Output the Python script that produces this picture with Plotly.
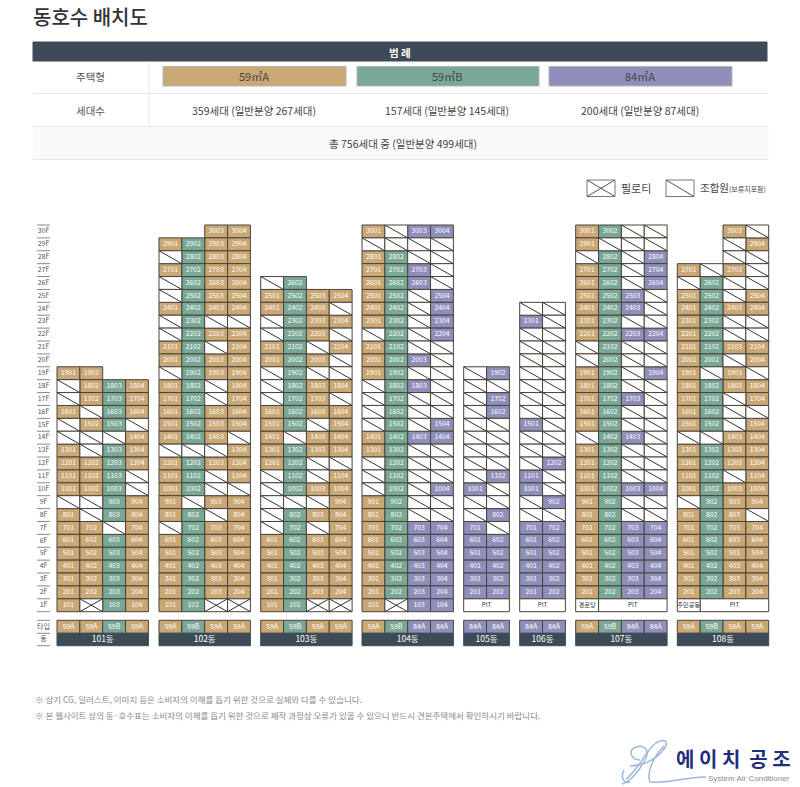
import plotly.graph_objects as go

# one string per floor, top floor first. A=59A B=59B C=84A /=member unit X=piloti
# P=PIT L=named community room, space=no cell
rows_101 = ["AA  ", "/ABA", "/ABA", "A/BA", "/AB/", "///A", "A/BA", "AABA", "AAB/", "AAB/",
            "//BA", "A/BA", "AA/A", "AABA", "AABA", "AABA", "AABA", "AABA", "AXBA"]
rows_102 = ["  AA", "ABAA", "/BAA", "ABAA", "/BAA", "/BAA", "ABAA", "/B//", "/BAA", "AB/A",
            "ABAA", "/BAA", "AB/A", "AB/A", "ABAA", "ABAA", "ABA/", "///A", "ABAA", "AB/A",
            "AB//", "A/AA", "AB/A", "/BAA", "ABAA", "ABAA", "ABAA", "ABAA", "ABAA", "ABXX"]
rows_103 = ["/B  ", "ABAA", "ABA/", "/BAA", "/BA/", "AB/A", "ABA/", "/B//", "/BAA", "/BA/",
            "ABAA", "AB/A", "A/AA", "ABAA", "AB//", "/B/A", "/BAA", "///A", "/BAA", "/B/A",
            "ABAA", "ABAA", "ABAA", "ABAA", "ABAA", "ABXX"]
rows_104 = ["A/CC", "////", "AB//", "ABC/", "ABC/", "AB/C", "AB/C", "AB/C", "/B/C", "AB//",
            "ABC/", "AB//", "/BC/", "/B//", "/B//", "/B/C", "ABCC", "AB//", "/B//", "/B//",
            "/B/C", "AB//", "AB//", "ABCC", "ABCC", "ABCC", "ABCC", "ABCC", "ABCC", "AXCC"]
rows_105 = ["/C", "//", "/C", "/C", "//", "//", "//", "//", "/C", "C/",
            "//", "/C", "C/", "CC", "CC", "CC", "CC", "CC", "PP"]
rows_106 = ["//", "C/", "//", "//", "//", "//", "//", "//", "//", "C/",
            "//", "//", "/C", "C/", "C/", "/C", "//", "CC", "CC", "CC", "CC", "CC", "CC", "PP"]
rows_107 = ["AB//", "A///", "/B/C", "AB/C", "AB/C", "ABC/", "ABC/", "AB//", "ABCC", "/B//",
            "/B//", "AB/C", "AB//", "ABC/", "AB//", "AB//", "/BC/", "AB//", "AB//", "AB//",
            "ABCC", "AB//", "AB//", "ABCC", "ABCC", "ABCC", "ABCC", "ABCC", "ABCC", "LPPP"]
rows_108 = ["  A/", "  /A", "  //", "A/A/", "/B//", "AB/A", "ABAA", "AB//", "AB//", "ABAA",
            "AB/A", "A/A/", "ABAA", "AB/A", "AB//", "AB/A", "//AA", "ABAA", "ABAA", "AB/A",
            "ABAA", "/BAA", "ABA/", "ABAA", "ABAA", "ABAA", "ABAA", "ABAA", "ABAA", "LPPP"]

dong_names = ["101동", "102동", "103동", "104동", "105동", "106동", "107동", "108동"]
dong_rows = [rows_101, rows_102, rows_103, rows_104, rows_105, rows_106, rows_107, rows_108]
dong_types = ["AABA", "ABAA", "ABAA", "ABCC", "CC", "CC", "ABCC", "ABAA"]
room_labels = {"107동": "경로당", "108동": "주민공동"}
type_labels = {"A": "59A", "B": "59B", "C": "84A"}

legend_names = ["59㎡A", "59㎡B", "84㎡A"]
legend_counts = ["359세대 (일반분양 267세대)", "157세대 (일반분양 145세대)", "200세대 (일반분양 87세대)"]
total_text = "총 756세대 중 (일반분양 499세대)"
notes = ["※ 상기 CG, 일러스트, 이미지 등은 소비자의 이해를 돕기 위한 것으로 실제와 다를 수 있습니다.",
         "※ 본 웹사이트 상의 동·호수표는 소비자의 이해를 돕기 위한 것으로 제작 과정상 오류가 있을 수 있으니 반드시 견본주택에서 확인하시기 바랍니다."]

colors = {"A": "#c9a876", "B": "#7aa896", "C": "#8f8fbb", "/": "#ffffff", "X": "#ffffff",
          "P": "#ffffff", "L": "#ffffff"}
DARK = "#3d4a57"
EDGE = "#4a433b"
FONT = "Noto Sans CJK KR"

W, H = 800, 787
# layout of the plan, in page pixels
dong_left = [57, 159, 260.7, 362, 463.7, 519.7, 575.7, 677.3]
CELL_W = 22.85
ROW_H = 12.89
FLOOR_0 = 611.7   # page y of the bottom of 1F


def py(pixel_y):
    return (FLOOR_0 - pixel_y) / ROW_H


def paper_x(v):
    return v / W


def paper_y(v):
    return 1 - v / H


def add_rect(shapes, x0, y0, x1, y1, fill, line=None):
    shapes.append(dict(type="rect", xref="paper", yref="paper", x0=paper_x(x0), x1=paper_x(x1),
                       y0=paper_y(y0), y1=paper_y(y1), fillcolor=fill, layer="below",
                       line=dict(color=line or fill, width=1)))


def add_line(shapes, x0, y0, x1, y1, color, width=1):
    shapes.append(dict(type="line", xref="paper", yref="paper", x0=paper_x(x0), x1=paper_x(x1),
                       y0=paper_y(y0), y1=paper_y(y1), layer="below", line=dict(color=color, width=width)))


def add_text(annots, x, y, text, size, color="#444444", anchor="center", weight=None, font=FONT):
    annots.append(dict(xref="paper", yref="paper", x=paper_x(x), y=paper_y(y), text=text, showarrow=False,
                       xanchor=anchor, yanchor="middle", font=dict(family=font, size=size, color=color, weight=weight)))


bars = {k: dict(x=[], base=[], width=[]) for k in colors}
labels_x, labels_y, labels_text = [], [], []
small_x, small_y, small_text = [], [], []
diag_x, diag_y = [], []

for name, rows, left in zip(dong_names, dong_rows, dong_left):
    top = len(rows)
    for i, row in enumerate(rows):
        floor = top - i
        col = 0
        while col < len(row):
            code = row[col]
            if code == " ":
                col += 1
                continue
            span = 1
            if code == "P":
                span = len(row) - col
            x0 = left + col * CELL_W
            x1 = x0 + span * CELL_W
            cx = (x0 + x1) / 2
            bars[code]["x"].append(cx)
            bars[code]["base"].append(floor - 1)
            bars[code]["width"].append(span * CELL_W)
            if code in "ABC":
                labels_x.append(cx)
                labels_y.append(floor - 0.5)
                labels_text.append(str(floor * 100 + col + 1))
            elif code == "P":
                small_x.append(cx)
                small_y.append(floor - 0.5)
                small_text.append("PIT")
            elif code == "L":
                small_x.append(cx)
                small_y.append(floor - 0.5)
                small_text.append(room_labels[name])
            if code in "/X":
                diag_x += [x0, x1, None]
                diag_y += [floor, floor - 1, None]
            if code == "X":
                diag_x += [x0, x1, None]
                diag_y += [floor - 1, floor, None]
            col += span

fig = go.Figure()
for code, b in bars.items():
    fig.add_trace(go.Bar(x=b["x"], y=[1] * len(b["x"]), base=b["base"], width=b["width"],
                         marker=dict(color=colors[code], line=dict(color=EDGE, width=1)), hoverinfo="skip"))

# type row and dong name row under the building
type_top, type_bottom = py(620.3), py(633.3)
name_bottom = py(645.7)
type_x, type_w, type_text, type_colors = [], [], [], []
name_x, name_w = [], []
for name, types, left in zip(dong_names, dong_types, dong_left):
    for col, code in enumerate(types):
        type_x.append(left + (col + 0.5) * CELL_W)
        type_w.append(CELL_W)
        type_text.append(type_labels[code])
        type_colors.append(colors[code])
    name_x.append(left + len(types) * CELL_W / 2)
    name_w.append(len(types) * CELL_W)

fig.add_trace(go.Bar(x=type_x, y=[type_top - type_bottom] * len(type_x), base=type_bottom, width=type_w,
                     marker=dict(color=type_colors, line=dict(color=EDGE, width=1)), hoverinfo="skip"))
fig.add_trace(go.Bar(x=name_x, y=[type_bottom - name_bottom] * len(name_x), base=name_bottom, width=name_w,
                     marker=dict(color=DARK, line=dict(color=DARK, width=1)), hoverinfo="skip"))

fig.add_trace(go.Scatter(x=diag_x, y=diag_y, mode="lines", line=dict(color="#333333", width=1), hoverinfo="skip"))
fig.add_trace(go.Scatter(x=labels_x, y=labels_y, mode="text", text=labels_text,
                         textfont=dict(family=FONT, size=6.8, color="#ffffff"), hoverinfo="skip"))
fig.add_trace(go.Scatter(x=small_x, y=small_y, mode="text", text=small_text,
                         textfont=dict(family=FONT, size=6.2, color="#333333"), hoverinfo="skip"))
fig.add_trace(go.Scatter(x=type_x, y=[(type_top + type_bottom) / 2] * len(type_x), mode="text", text=type_text,
                         textfont=dict(family=FONT, size=7, color="#ffffff"), hoverinfo="skip"))
fig.add_trace(go.Scatter(x=name_x, y=[(type_bottom + name_bottom) / 2] * len(name_x), mode="text", text=dong_names,
                         textfont=dict(family=FONT, size=8.5, color="#ffffff"), hoverinfo="skip"))

# floor ruler on the left
floors = list(range(1, 31))
fig.add_trace(go.Scatter(x=[43.5] * 30, y=[f - 0.5 for f in floors], mode="text", text=[f"{f}F" for f in floors],
                         textfont=dict(family=FONT, size=7, color="#555555"), hoverinfo="skip"))
fig.add_trace(go.Scatter(x=[43.5, 43.5], y=[(type_top + type_bottom) / 2, (type_bottom + name_bottom) / 2],
                         mode="text", text=["타입", "동"], textfont=dict(family=FONT, size=7, color="#555555"),
                         hoverinfo="skip"))
rule_x, rule_y = [], []
for f in [0] + floors + [type_top, type_bottom, name_bottom]:
    rule_x += [37, 50, None]
    rule_y += [f, f, None]
fig.add_trace(go.Scatter(x=rule_x, y=rule_y, mode="lines", line=dict(color="#8a8a8a", width=1), hoverinfo="skip"))

shapes, annots = [], []

# heading and legend table
add_text(annots, 31, 17, "동호수 배치도", 20, "#333333", "left", 500)
add_rect(shapes, 33, 42, 767, 61, DARK)
add_text(annots, 400, 52, "범 례", 10.5, "#ffffff", weight=700)
add_rect(shapes, 33, 127, 768, 159, "#fafafa")
for y in (93.5, 126.5, 159.5):
    add_line(shapes, 33, y, 768, y, "#e6e6e6")
add_line(shapes, 149, 62, 149, 126, "#e6e6e6")
add_text(annots, 90, 77, "주택형", 10.5, "#555555")
add_text(annots, 90, 110, "세대수", 10.5, "#555555")

swatch_spans = [(163, 346), (357, 539), (549, 732)]
for (x0, x1), code, name, count in zip(swatch_spans, "ABC", legend_names, legend_counts):
    add_rect(shapes, x0, 66.5, x1, 86, colors[code], "#b5b5b5")
    add_text(annots, (x0 + x1) / 2 - 1, 76, name, 11, "#444444")
    add_text(annots, (x0 + x1) / 2 - 1, 110.5, count, 10.5, "#444444")
add_text(annots, 403, 143.5, total_text, 10.5, "#444444")

# unit key
for x0 in (587, 666):
    add_rect(shapes, x0, 180, x0 + 28, 196.5, "#ffffff", "#777777")
    add_line(shapes, x0, 180, x0 + 28, 196.5, "#555555")
add_line(shapes, 587, 196.5, 615, 180, "#555555")
add_text(annots, 618.5, 188, "필로티", 11, "#444444", "left")
add_text(annots, 697.5, 188, "조합원<span style='font-size:7px'>(보류지포함)</span>", 10.5, "#444444", "left")

# footnotes
add_text(annots, 33, 699, notes[0], 8.5, "#8a8a8a", "left")
add_text(annots, 33, 715, notes[1], 8.5, "#8a8a8a", "left")

# company mark
add_text(annots, 674, 758, "에 이 치  공 조", 20, "#1e2f7d", "left", 700)
add_text(annots, 792, 778, "System Air Conditioner", 8, "#8c8c8c", "right", font="Liberation Sans")
swirls = [
    "M 626 779 C 640 768 646 750 656 743 C 664 738 670 741 664 749 C 656 760 642 766 630 766",
    "M 622 784 C 630 782 640 770 646 758 C 650 748 642 744 634 748 C 628 752 632 760 640 760",
    "M 650 782 C 646 772 654 756 664 746 M 650 782 C 668 784 690 776 706 777",
    "M 624 770 C 620 778 624 784 630 782",
]
for d in swirls:
    points = d.split()
    out = []
    i = 0
    while i < len(points):
        if points[i] in ("M", "C", "L"):
            out.append(points[i])
            i += 1
        else:
            out.append(f"{paper_x(float(points[i])):.5f},{paper_y(float(points[i + 1])):.5f}")
            i += 2
    shapes.append(dict(type="path", xref="paper", yref="paper", path=" ".join(out), layer="below",
                       line=dict(color="#9db7dc", width=1.5)))

fig.update_layout(
    width=W, height=H, margin=dict(l=0, r=0, t=0, b=0), showlegend=False, barmode="overlay",
    plot_bgcolor="#ffffff", paper_bgcolor="#ffffff", shapes=shapes, annotations=annots,
    xaxis=dict(range=[0, W], visible=False, fixedrange=True),
    yaxis=dict(range=[py(H), py(0)], visible=False, fixedrange=True),
)
# page margin would shift the figure by 8px
fig.write_html("out.html", config={"displayModeBar": False},
               post_script="document.body.style.margin='0';document.body.style.overflow='hidden';")
